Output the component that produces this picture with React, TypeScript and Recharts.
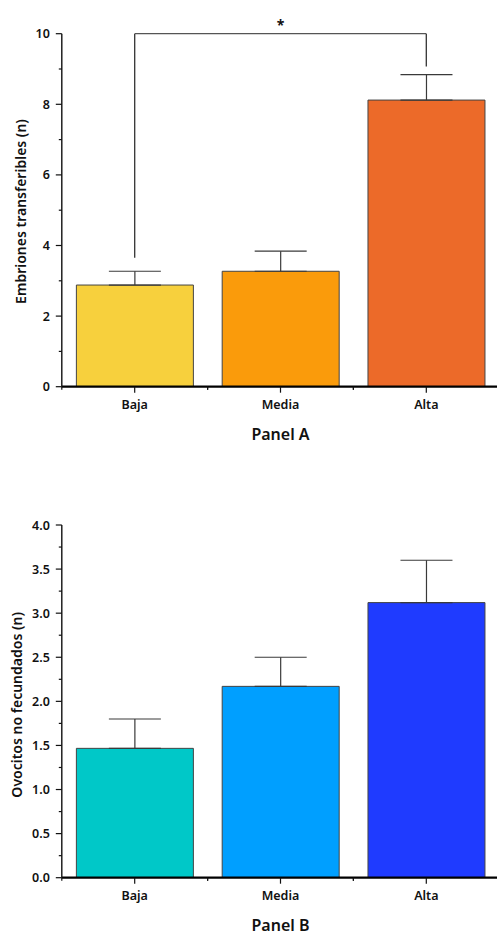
import React from 'react';
import { BarChart, Bar, XAxis, YAxis, ErrorBar, Cell, ReferenceLine } from 'recharts';

const categories = ['Baja', 'Media', 'Alta'];

const embrionesMean = [2.88, 3.27, 8.12];
const embrionesErr = [0.39, 0.57, 0.72];
const embrionesColors = ['#F7D03D', '#FA9B0B', '#EC6A29'];
const embrionesTicks = [0, 1, 2, 3, 4, 5, 6, 7, 8, 9, 10];

const ovocitosMean = [1.467, 2.17, 3.12];
const ovocitosErr = [0.333, 0.33, 0.48];
const ovocitosColors = ['#00C8C8', '#009FFF', '#1F3BFF'];
const ovocitosTicks = [0, 0.25, 0.5, 0.75, 1, 1.25, 1.5, 1.75, 2, 2.25, 2.5, 2.75, 3, 3.25, 3.5, 3.75, 4];

const bracket = { from: 'Baja', to: 'Alta', fromY: 3.65, topY: 10, toY: 9.07, text: '*' };

const FONT = '"Noto Sans", sans-serif';

const dataA = categories.map((c, i) => ({ name: c, value: embrionesMean[i], err: [0, embrionesErr[i]] }));
const dataB = categories.map((c, i) => ({ name: c, value: ovocitosMean[i], err: [0, ovocitosErr[i]] }));

function makeYTick(isMajor: (v: number) => boolean, fmt: (v: number) => string) {
  return (props: any) => {
    const { x, y, payload } = props;
    const v = payload.value as number;
    const major = isMajor(v);
    return (
      <g>
        <line x1={x - (major ? 6 : 3)} x2={x} y1={y} y2={y} stroke="#111" strokeWidth={1.2} />
        {major && (
          <text x={x - 12} y={y} dy="0.36em" textAnchor="end" fontFamily={FONT} fontWeight={600} fontSize={12.5} fill="#111">
            {fmt(v)}
          </text>
        )}
      </g>
    );
  };
}

const XTick = (props: any) => {
  const { x, y, payload } = props;
  const off = typeof payload.offset === 'number' && payload.offset > 0 ? payload.offset : 72.9;
  return (
    <g>
      <line x1={x} x2={x} y1={y} y2={y + 6} stroke="#111" strokeWidth={1.2} />
      <line x1={x - off} x2={x - off} y1={y} y2={y + 3} stroke="#111" strokeWidth={1.2} />
      <line x1={x + off} x2={x + off} y1={y} y2={y + 3} stroke="#111" strokeWidth={1.2} />
      <text x={x} y={y + 22} textAnchor="middle" fontFamily={FONT} fontWeight={600} fontSize={12.5} fill="#111">
        {payload.value}
      </text>
    </g>
  );
};

const yLabel = (text: string, cx: number, dyc: number) => (props: any) => {
  const vb = props.viewBox;
  const x = vb.x + cx;
  const y = vb.y + vb.height / 2 + dyc;
  return (
    <text x={x} y={y} transform={`rotate(-90, ${x}, ${y})`} textAnchor="middle" dy="0.36em" fontFamily={FONT} fontWeight={600} fontSize={14} fill="#111">
      {text}
    </text>
  );
};

const xLabel = (text: string) => (props: any) => {
  const vb = props.viewBox;
  return (
    <text x={vb.x + vb.width / 2} y={vb.y + 53} textAnchor="middle" fontFamily={FONT} fontWeight={600} fontSize={16} fill="#111">
      {text}
    </text>
  );
};

const tickA = makeYTick((v) => v % 2 === 0, (v) => String(v));
const tickB = makeYTick((v) => Math.abs(v * 2 - Math.round(v * 2)) < 1e-6, (v) => v.toFixed(1));

export default function App() {
  return (
    <div style={{ position: 'absolute', left: 0, top: 0, width: 497, height: 935, overflow: 'hidden', background: '#fff' }}>
      <div style={{ position: 'absolute', left: 0, top: 0 }}>
        <BarChart width={520} height={460} data={dataA} margin={{ top: 33.7, right: 20.8, left: 0, bottom: 0 }} barCategoryGap="10%">
          <XAxis
            dataKey="name"
            height={73.3}
            axisLine={{ stroke: '#000', strokeWidth: 2.2 }}
            tickLine={false}
            tickSize={0}
            tickMargin={0}
            tick={XTick}
            interval={0}
            label={{ content: xLabel('Panel A') } as any}
          />
          <YAxis
            width={61.8}
            domain={[0, 10]}
            ticks={embrionesTicks}
            interval={0}
            axisLine={{ stroke: '#111', strokeWidth: 1.4 }}
            tickLine={false}
            tickSize={0}
            tickMargin={0}
            tick={tickA}
            allowDataOverflow
            label={{ content: yLabel('Embriones transferibles (n)', 21, 1.3) } as any}
          />
          <Bar dataKey="value" stroke="#444" strokeWidth={1} isAnimationActive={false}>
            {dataA.map((d, i) => (
              <Cell key={d.name} fill={embrionesColors[i]} />
            ))}
            <ErrorBar dataKey="err" width={26} stroke="#3a3a3a" strokeWidth={1.2} direction="y" />
          </Bar>
          <ReferenceLine
            segment={[{ x: bracket.from, y: bracket.fromY }, { x: bracket.from, y: bracket.topY }]}
            stroke="#333"
            strokeWidth={1.3}
            ifOverflow="visible"
          />
          <ReferenceLine
            segment={[{ x: bracket.from, y: bracket.topY }, { x: bracket.to, y: bracket.topY }]}
            stroke="#555"
            strokeWidth={1.3}
            ifOverflow="visible"
            label={{ value: bracket.text, position: 'top', offset: 4, fontFamily: FONT, fontWeight: 700, fontSize: 14, fill: '#111' }}
          />
          <ReferenceLine
            segment={[{ x: bracket.to, y: bracket.topY }, { x: bracket.to, y: bracket.toY }]}
            stroke="#333"
            strokeWidth={1.3}
            ifOverflow="visible"
          />
        </BarChart>
      </div>
      <div style={{ position: 'absolute', left: 0, top: 480 }}>
        <BarChart width={520} height={455} data={dataB} margin={{ top: 45, right: 20.8, left: 0, bottom: 0 }} barCategoryGap="10%">
          <XAxis
            dataKey="name"
            height={57.3}
            axisLine={{ stroke: '#000', strokeWidth: 2.2 }}
            tickLine={false}
            tickSize={0}
            tickMargin={0}
            tick={XTick}
            interval={0}
            label={{ content: xLabel('Panel B') } as any}
          />
          <YAxis
            width={61.8}
            domain={[0, 4]}
            ticks={ovocitosTicks}
            interval={0}
            axisLine={{ stroke: '#111', strokeWidth: 1.4 }}
            tickLine={false}
            tickSize={0}
            tickMargin={0}
            tick={tickB}
            allowDataOverflow
            label={{ content: yLabel('Ovocitos no fecundados (n)', 16.5, 3.5) } as any}
          />
          <Bar dataKey="value" stroke="#444" strokeWidth={1} isAnimationActive={false}>
            {dataB.map((d, i) => (
              <Cell key={d.name} fill={ovocitosColors[i]} />
            ))}
            <ErrorBar dataKey="err" width={26} stroke="#3a3a3a" strokeWidth={1.2} direction="y" />
          </Bar>
        </BarChart>
      </div>
    </div>
  );
}
